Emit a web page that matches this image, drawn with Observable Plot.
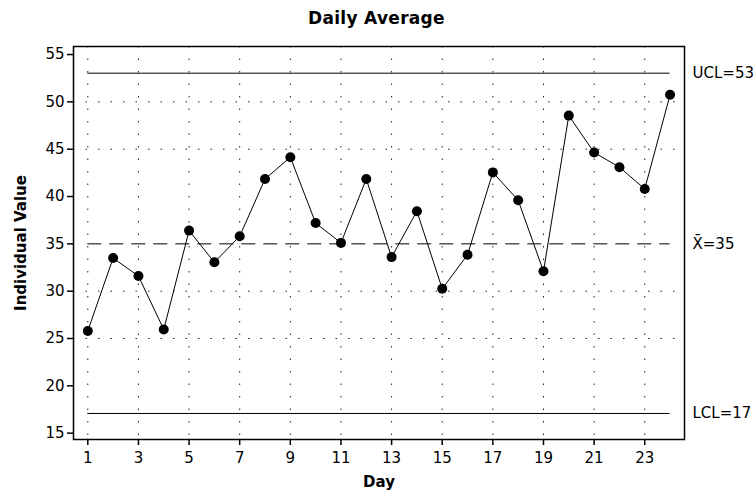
<!DOCTYPE html>
<html>
<head>
<meta charset="utf-8">
<script src="https://cdn.jsdelivr.net/npm/d3@7"></script>
<script src="https://cdn.jsdelivr.net/npm/@observablehq/plot@0.6"></script>
<style>
  html, body { margin: 0; padding: 0; background: white; }
  #title { width: 753px; height: 30px; box-sizing: border-box; padding-top: 9px; text-align: center;
           font: bold 17px "DejaVu Sans", sans-serif; color: black; line-height: 18px; letter-spacing: 0.3px; }
</style>
</head>
<body>
<div id="title">Daily Average</div>
<div id="chart"></div>
<script>
const days = d3.range(1, 25);
const values = [25.8, 33.5, 31.6, 25.95, 36.4, 33.05, 35.8, 41.85, 44.15, 37.2, 35.1, 41.85,
                33.6, 38.45, 30.25, 33.85, 42.55, 39.6, 32.1, 48.55, 44.65, 43.1, 40.8, 50.75];
const xTicks = [1, 3, 5, 7, 9, 11, 13, 15, 17, 19, 21, 23];
const yTicks = [15, 20, 25, 30, 35, 40, 45, 50, 55];
const gridY = [25, 30, 45, 50];
const UCL = 53.03, CL = 35.0, LCL = 17.08;
const limitLabels = ["UCL=53", "X\u0304=35", "LCL=17"];
const limitValues = [UCL, CL, LCL];

const data = days.map((d, i) => ({day: d, value: values[i]}));
const xDomain = [0.435, 24.57];

const chart = Plot.plot({
  width: 753,
  height: 462,
  marginTop: 16,
  marginBottom: 53,
  marginLeft: 73,
  marginRight: 69,
  style: {fontFamily: "DejaVu Sans, sans-serif", fontSize: "15px", color: "black", background: "white"},
  x: {domain: xDomain},
  y: {domain: [14.33, 55.85]},
  marks: [
    Plot.ruleX(xTicks, {stroke: "#222", strokeWidth: 1, strokeDasharray: "1.5,11"}),
    Plot.ruleY(gridY, {stroke: "#222", strokeWidth: 1, strokeDasharray: "1.5,11"}),
    Plot.ruleY([UCL, LCL], {x1: 1, x2: 24, stroke: "black", strokeWidth: 1}),
    Plot.ruleY([CL], {x1: 1, x2: 24, stroke: "black", strokeWidth: 1, strokeDasharray: "14,8"}),
    Plot.line(data, {x: "day", y: "value", stroke: "black", strokeWidth: 1}),
    Plot.dot(data, {x: "day", y: "value", r: 5, fill: "black", stroke: "none"}),
    Plot.frame({stroke: "black", strokeWidth: 1.5}),
    Plot.axisY({ticks: yTicks, tickSize: 6, tickPadding: 3, strokeWidth: 1.5, label: null, fontSize: 15}),
    Plot.axisX({ticks: xTicks, tickSize: 6, tickPadding: 7, strokeWidth: 1.5, label: null, fontSize: 15}),
    Plot.text(limitLabels, {x: xDomain[1], y: (d, i) => limitValues[i], dx: 8, textAnchor: "start", fontSize: 15}),
    Plot.text(["Individual Value"], {frameAnchor: "left", textAnchor: "middle", dx: -52, rotate: -90, fontWeight: "bold", fontSize: 15}),
    Plot.text(["Day"], {frameAnchor: "bottom", textAnchor: "middle", dy: 47, fontWeight: "bold", fontSize: 15})
  ]
});
document.getElementById("chart").appendChild(chart);
</script>
</body>
</html>
